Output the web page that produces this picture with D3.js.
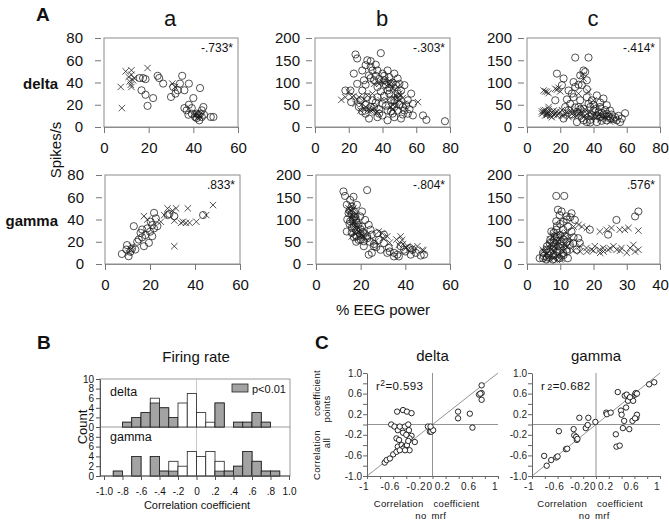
<!DOCTYPE html>
<html><head><meta charset="utf-8">
<script src="https://cdn.jsdelivr.net/npm/d3@7"></script>
<style>
body{margin:0;background:#fff}
svg{display:block}
text{font-family:"Liberation Sans",Arial,Helvetica,sans-serif;fill:#111}
</style>
</head><body>
<svg id="c" width="669" height="523"></svg>
<script>
// ================= DATA =================
const colTitles = ['a','b','c'];
const rowLabels = ['delta','gamma'];
const rLabels = ['-.733*','-.303*','-.414*','.833*','-.804*','.576*'];
const yTicksA = [[0,20,40,60,80],[0,50,100,150,200],[0,50,100,150,200],
                 [0,20,40,60,80],[0,50,100,150,200],[0,50,100,150,200]];
const xTicksA = [[0,20,40,60],[0,20,40,60,80],[0,20,40,60,80],
                 [0,20,40,60],[0,20,40,60],[0,10,20,30,40]];

// A delta / a
const dA_circ = [[16,44],[17.5,44],[18.6,43],[16.8,33],[18.6,29],[19.5,19],[22,26],[24,46],[24.7,44],[26.5,39],
 [30,27],[31,36],[32,30],[33,33],[34,39],[35,46],[36,33],[38,39],[40,26],[43,35],[36,17],[37,15],[38,20],[39.3,12],
 [40.8,9],[41.5,8],[42.7,6],[43,12],[43.8,15],[44.5,18],[44.8,11],[47.8,9],[49,9],[42.3,11],[43.8,9],[41.5,12],[39.3,17],[37.8,11]];
const dA_cross = [[8,17],[7.5,36],[9.7,50],[12.3,51],[19.5,53],[11,45],[11.5,41],[12,38],[12.3,36],[13,42],[12.3,47],[13.5,44],
 [30.6,39],[31.8,36],[40.8,11],[42,9],[41,10],[42,12],[43,9]];
// A delta / b
const dB_circ = [[18,82],[21.4,56],[24,163],[25,154],[23,120],[25,97],[28,127],[29,105],[30,139],[31,150],[33,135],[32,116],
 [34,127],[35,105],[39,166],[37,127],[40,120],[41,105],[43,127],[44,112],[45,97],[47,120],[49,109],[50,97],[51,82],[53,94],
 [57,75],[58,26],[64,26],[66,16],[77,13],[28,82],[31,67],[33,45],[32,19],[37,22],[40,52],[43,15],[45,60],[47,45],[49,67],
 [51,19],[53,37],[55,60],[49,37],[43,37],[37,67],[37,90],[21,82],[26,45],[35,45],[40,26],[47,22],[43,82],[49,75],[54,49],
 [58,52],[27,60],[46,30],[52,28],[30,30],[38,40],
 [30,95],[33,110],[36,115],[38,108],[42,95],[44,88],[46,100],[48,95],[39,80],[41,70],[44,75],[47,60],[50,50],[52,45],
 [45,35],[42,48],[36,55],[34,60],[30,50],[28,35],[38,30],[55,30],[56,40],[41,115],[36,140],[33,148]];
const dB_cross = [[15.6,61],[18,67],[20,79],[22,67],[24,52],[26,67],[27,37],[29,41],[31,71],[33,37],[35,41],[37,34],[35,97],
 [38,97],[40,101],[42,105],[45,101],[47,82],[48,71],[49,67],[51,71],[53,52],[61,56],[45,45],[43,60],[49,90],[50,60],[28,52],
 [34,75],[39,60],[46,40],[48,55],[32,40],
 [30,45],[32,35],[34,38],[36,32],[46,50],[47,65],[48,48],[50,75],[52,65],[44,95],[46,88],[38,102],[41,98],[25,60],[23,70],[29,62]];
// A delta / c
const dC_circ = [[29,156],[37,156],[18,120],[22,109],[21,94],[28,101],[34,127],[35,124],[36,105],[32,116],[33,94],[29,90],
 [17,60],[25,82],[42,71],[46,64],[39,60],[48,30],[53,22],[59,31],[57,19],[54,15],[50,19],[44,22],[39,26],[34,41],[30,34],
 [26,52],[28,67],[22,19],[23,45],[32,60],[36,67],[30,11],[36,11],[42,11],[48,15],[40,37],[44,45],[48,49],[37,52],[50,37],
 [42,26],[56,11],[27,28],[33,20],[45,32],[38,16],[31,45],
 [32,40],[35,30],[38,45],[41,40],[43,33],[46,28],[49,24],[52,18],[55,25],[44,55],[40,50],[36,85],[31,95],[27,75],[24,62],
 [34,15],[38,10],[45,14],[51,28],[47,38],[29,44],[25,38]];
const dC_cross = [[10,82],[12,79],[17,86],[19,88],[10,37],[11,26],[13,34],[14,30],[16,37],[18,26],[20,34],[23,30],[26,37],
 [28,26],[31,30],[34,22],[36,30],[39,19],[42,22],[45,26],[48,19],[52,15],[33,116],[34,109],[31,75],[37,79],[40,60],[43,45],
 [13,45],[15,22],[9,30],[12,32],[17,30],[21,26],[25,22],[29,34],[33,28],[38,24],[41,30],[44,17],[47,24],[50,12],[35,40],
 [10,33],[11,38],[12,27],[13,40],[14,25],[15,33],[16,28],[18,35],[19,29],[21,38],[22,25],[24,33],[27,30],[30,24],[32,35],
 [35,26],[38,33],[40,24],[43,28],[46,20],[49,25],[11,80],[13,76],[18,84],[20,80],[12,30],[9,35]];
// A gamma / a
const gA_circ = [[7.5,9],[9.8,17],[9.5,13],[10.5,7],[11.3,11],[12,14],[12.8,34],[13.5,13],[14.3,20],[15,22],[15.8,28],
 [16.5,24],[17.3,16],[16.5,31],[18,26],[18.8,32],[19.5,19],[20.3,38],[20,29],[21,35],[21,25],[21.8,46],[22.6,41],[21.8,32],
 [23.3,34],[27.8,44],[28.6,45],[30.8,43],[43.6,44]];
const gA_cross = [[10.5,10],[11.3,13],[12,16],[17.3,43],[18.8,40],[24.8,38],[26.3,44],[27.8,50],[30,48],[31.6,50],[30.8,39],
 [30.8,16],[33.8,37],[36,37],[36.8,50],[37.6,37],[40.6,38],[45,44],[48,53],[34.6,38]];
// A gamma / b
const gB_circ = [[12.3,163],[13,153],[22.9,166],[13.8,133],[15.3,144],[16,129],[17,118],[17.6,107],[14.6,114],[15.3,96],
 [16,81],[13.8,73],[18.3,92],[19.8,107],[20.6,84],[21.4,69],[22,99],[23.6,88],[24.4,77],[18.3,62],[19.1,54],[21.4,51],
 [22.9,62],[25,66],[27.4,69],[30.4,66],[25.9,40],[23.6,21],[25,25],[28.9,32],[30.4,47],[32.6,36],[34.9,17],[36.4,21],
 [37.9,40],[39.4,32],[42.4,21],[44.7,25],[46.9,19],[48.4,21],[20.6,118],[16.8,151],[18.3,133],[31.9,25],[37.1,17],
 [43.2,32],[28.1,54],[21.4,40],[19.8,66],[17,60],[18,75],[16.5,100],
 [15,120],[16,112],[17,105],[18,98],[19,88],[20,78],[21,72],[17,85],[16,70],[15,90],[14,100],[18,50],[20,55],[23,58],
 [24,50],[26,45],[27,38],[33,28],[35,25],[40,28],[42,36]];
const gB_cross = [[14.6,125],[15.3,122],[16.8,125],[16,110],[16.8,99],[16,62],[17.6,69],[18.3,77],[19.1,73],[19.8,62],
 [20.6,66],[28.1,73],[29.6,69],[31.9,62],[37.9,62],[38.6,54],[40.2,36],[45.4,40],[47.7,32],[26.6,51],[37.1,43],[43.2,36],
 [16,88],[17.6,88],
 [15,115],[16,105],[17,95],[18,85],[19,80],[20,70],[21,62],[22,58],[17,70],[18,112],[16,130],[30,58],[33,48],[36,55],
 [41,40],[44,30],[48,30],[39,45]];
// A gamma / c
const gC_circ = [[8.8,153],[11.2,153],[9.3,122],[10.4,118],[9.8,110],[8.8,96],[11.9,107],[13.4,114],[14.4,99],[12.3,84],
 [13.4,73],[15.4,58],[14.9,32],[12.3,13],[15.9,47],[18.9,77],[26.9,99],[24.4,66],[32.5,107],[33.5,118],[3.8,13],[4.8,25],
 [5.8,32],[6.8,47],[7.8,32],[8.3,62],[9.3,40],[10.4,51],[10.9,25],[9.8,13],[7.8,10],[5.8,10],[11.9,32],[12.9,43],[11.4,62],
 [8.8,77],[7.3,73],[13.9,47],[10.9,77],[4.8,13],[6.5,20],[8,20],[9,28],
 [6,40],[7,55],[8,48],[9,60],[10,65],[7,28],[8,38],[9,52],[10,45],[11,55],[12,50],[11,20],[12,28],[6,15],[5,18],[8,70],
 [9,85],[10,90],[11,95],[12,100],[13,105],[14,60]];
const gC_cross = [[4.8,32],[5.8,21],[6.8,17],[7.3,32],[8.3,25],[9.3,17],[10.4,32],[8.8,54],[7.8,62],[9.8,69],[11.4,43],
 [12.9,58],[14,84],[15.5,88],[16.5,84],[18,81],[15.9,40],[17.9,36],[19.4,32],[20.4,40],[21.9,32],[22.9,36],[24.4,32],
 [26,40],[27,32],[28.4,36],[32,43],[33.5,32],[32.5,28],[23.9,77],[25.4,81],[27.9,77],[29.4,77],[30.5,81],[33.5,75],
 [21.9,73],[6.8,43],[9.3,43],[8.3,40],[10.9,40],[6,25],[8,15],[9.5,22],[10.5,12],
 [5,28],[6,35],[7,45],[8,30],[9,48],[10,58],[11,65],[12,70],[7,55],[8,65],[9,35],[10,20],[11,28],[12,38],[13,48],[14,30],
 [6,12],[7,10],[8,12],[9,9],[10,10],[16,28],[18,28],[20,30],[23,28],[25,35],[28,30],[30,25],[31,36],[22,25]];

// Panel B histogram (bin starts, width 0.1)
const binStarts = [-0.9,-0.8,-0.7,-0.6,-0.5,-0.4,-0.3,-0.2,-0.1,0,0.1,0.2,0.3,0.4,0.5,0.6,0.7,0.8];
const deltaTotal = [0,1,2,3,6,4,2,5,7,3,1,5,0,1,1,3,1,0];
const deltaSig   = [0,1,2,3,5,4,2,0,0,0,0,5,0,1,1,3,1,0];
const gammaTotal = [1,0,4,0,4,1,3,2,5,4,5,3,1,2,5,3,1,1];
const gammaSig   = [1,0,4,0,4,1,1,0,0,0,0,1,1,2,5,3,1,1];
const bXTicks = [-1,-0.8,-0.6,-0.4,-0.2,0,0.2,0.4,0.6,0.8,1];
const bXLabels = ['-1.0','-.8','-.6','-.4','-.2','0','.2','.4','.6','.8','1.0'];
const bDeltaTicks = [0,2,4,6,8,10];
const bGammaTicks = [0,2,4,6,8];

// Panel C (x = no mrf, y = all points)
const cDelta = [[-0.73,-0.74],[-0.70,-0.69],[-0.65,-0.66],[-0.63,0.0],[-0.58,-0.04],[-0.53,-0.43],[-0.60,-0.58],[-0.55,-0.53],
 [-0.54,0.25],[-0.45,0.28],[-0.39,0.25],[-0.32,0.22],[-0.53,-0.11],[-0.50,-0.04],[-0.42,-0.04],[-0.37,0.0],[-0.36,-0.11],
 [-0.45,-0.16],[-0.55,-0.27],[-0.51,-0.30],[-0.47,-0.40],[-0.42,-0.43],[-0.45,-0.47],[-0.39,-0.40],[-0.35,-0.50],[-0.42,-0.50],
 [-0.50,-0.50],[-0.27,-0.34],[-0.32,-0.22],[-0.35,-0.27],[-0.07,-0.04],[-0.04,-0.14],[-0.02,-0.14],[0.01,-0.11],[-0.03,-0.04],
 [0.39,0.25],[0.39,0.12],[0.57,0.21],[0.61,-0.06],[0.71,0.58],[0.75,0.61],[0.73,0.60],[0.75,0.76],[0.75,0.48],[-0.40,-0.20],[-0.37,-0.32]];
const cGamma = [[-0.81,-0.61],[-0.77,-0.80],[-0.70,-0.69],[-0.62,-0.64],[-0.60,-0.62],[-0.58,-0.13],[-0.47,-0.48],[-0.45,-0.47],
 [-0.35,-0.09],[-0.34,-0.21],[-0.31,-0.24],[-0.30,-0.30],[-0.29,-0.28],[-0.26,0.13],[-0.16,-0.07],[-0.13,-0.01],[-0.12,0.13],
 [-0.01,0.05],[0.16,0.23],[0.17,0.20],[0.23,0.23],[0.31,-0.19],[0.32,-0.43],[0.37,-0.41],[0.34,0.63],[0.39,0.27],[0.40,0.19],
 [0.42,-0.07],[0.44,0.07],[0.45,0.56],[0.47,0.33],[0.50,0.46],[0.52,-0.09],[0.56,0.51],[0.58,0.46],[0.57,0.07],[0.61,0.58],
 [0.62,0.61],[0.63,0.13],[0.64,0.19],[0.61,0.12],[0.64,0.60],[0.48,0.58],[0.83,0.78],[0.91,0.82],[0.53,0.53]];
const cYTicks = [1,0.6,0.2,-0.2,-0.6,-1];
const cYLabels = ['1.0','0.6','0.2','-0.2','-0.6','-1.0'];
const cYMinor = [0.8,0.4,0,-0.4,-0.8];
const cXTicks = [-1,-0.6,-0.2,0,0.2,0.6,1];
const cXLabels = ['-1','-0.6','-0.2','0','0.2','0.6','1'];
const cXMinor = [-0.8,-0.4,0.4,0.8];

// ================= DRAW =================
const svg = d3.select('#c');
const SERIF = '"Liberation Serif","Times New Roman",serif';

function txt(x,y,s,opt={}){
  const t = svg.append('text').attr('x',x).attr('y',y).text(s)
    .attr('font-size',opt.size||12).attr('text-anchor',opt.anchor||'start');
  if(opt.weight) t.attr('font-weight',opt.weight);
  if(opt.family) t.attr('font-family',opt.family);
  if(opt.rotate) t.attr('transform',`rotate(-90,${x},${y})`);
  if(opt.ls) t.attr('letter-spacing',opt.ls);
  if(opt.fill) t.style('fill',opt.fill);
  return t;
}

// ---------- Panel A ----------
txt(36,21,'A',{size:19,weight:'bold'});
const colCenters=[170,382,593];
colTitles.forEach((t,i)=>txt(colCenters[i],26,t,{size:22,anchor:'middle',family:SERIF}));
txt(58,89,rowLabels[0],{size:15,weight:'bold',anchor:'end'});
txt(58,226,rowLabels[1],{size:15,weight:'bold',anchor:'end'});
txt(61,150,'Spikes/s',{size:15,anchor:'middle',rotate:true});
txt(383,315,'% EEG power',{size:15,anchor:'middle'});

const layoutA = [
 {x0:104,x1:238,y0:38,y1:127,pad:12},{x0:315,x1:450,y0:38,y1:127,pad:6},{x0:527,x1:660,y0:38,y1:127,pad:6},
 {x0:105,x1:240,y0:175,y1:264,pad:12},{x0:316,x1:450,y0:175,y1:264,pad:6},{x0:527,x1:660,y0:175,y1:264,pad:6}];
const circSets=[dA_circ,dB_circ,dC_circ,gA_circ,gB_circ,gC_circ];
const crossSets=[dA_cross,dB_cross,dC_cross,gA_cross,gB_cross,gC_cross];

layoutA.forEach((L,i)=>{
  const xt=xTicksA[i], yt=yTicksA[i];
  const xs=d3.scaleLinear().domain([xt[0],xt[xt.length-1]]).range([L.x0,L.x1]);
  const ys=d3.scaleLinear().domain([yt[0],yt[yt.length-1]]).range([L.y1,L.y0]);
  const g=svg.append('g');
  g.append('rect').attr('x',L.x0).attr('y',L.y0).attr('width',L.x1-L.x0).attr('height',L.y1-L.y0)
    .attr('fill','none').attr('stroke','#8c8c8c').attr('stroke-width',1);
  const ya=g.append('g').attr('transform',`translate(${L.x0-3},0)`)
    .call(d3.axisLeft(ys).tickValues(yt).tickSize(6).tickPadding(L.pad).tickSizeOuter(0));
  ya.select('.domain').remove();
  const xa=g.append('g').attr('transform',`translate(0,${L.y1})`)
    .call(d3.axisBottom(xs).tickValues(xt).tickSize(6).tickPadding(9).tickSizeOuter(0));
  xa.select('.domain').attr('stroke','#8c8c8c');
  [ya,xa].forEach(a=>{
    a.selectAll('line').attr('stroke','#777');
    a.selectAll('text').attr('font-size',15).attr('font-family','"Liberation Sans",Arial,sans-serif').style('fill','#111');
  });
  g.selectAll('circle.pt').data(circSets[i]).enter().append('circle')
    .attr('cx',d=>xs(d[0])).attr('cy',d=>ys(d[1])).attr('r',3.6)
    .attr('fill','none').attr('stroke','#1a1a1a').attr('stroke-width',0.75);
  const h=3.2;
  g.selectAll('path.x').data(crossSets[i]).enter().append('path')
    .attr('d',d=>{const x=xs(d[0]),y=ys(d[1]);return `M${x-h},${y-h}L${x+h},${y+h}M${x-h},${y+h}L${x+h},${y-h}`;})
    .attr('stroke','#1a1a1a').attr('stroke-width',0.75).attr('fill','none');
  txt(L.x1-5,L.y0+14,rLabels[i],{size:12,anchor:'end'});
});

// ---------- Panel B ----------
txt(37,349,'B',{size:19,weight:'bold'});
txt(196,362,'Firing rate',{size:15,anchor:'middle'});
const xB=d3.scaleLinear().domain([-1,1]).range([104,289]);
const yBd=d3.scaleLinear().domain([0,10]).range([427,379]);
const yBg=d3.scaleLinear().domain([0,10]).range([476,427]);
const gB=svg.append('g');
gB.append('rect').attr('x',100).attr('y',379).attr('width',190).attr('height',97)
  .attr('fill','none').attr('stroke','#999');
gB.append('line').attr('x1',100).attr('x2',290).attr('y1',yBd(0)).attr('y2',yBd(0)).attr('stroke','#999');
gB.append('line').attr('x1',xB(0)).attr('x2',xB(0)).attr('y1',379).attr('y2',476).attr('stroke','#bbb').attr('stroke-width',0.8);
function bars(tot,sig,ys){
  binStarts.forEach((b,i)=>{
    if(tot[i]>0) gB.append('rect').attr('x',xB(b)).attr('width',xB(b+0.1)-xB(b))
      .attr('y',ys(tot[i])).attr('height',ys(0)-ys(tot[i])).attr('fill','#fff').attr('stroke','#222').attr('stroke-width',0.8);
    if(sig[i]>0) gB.append('rect').attr('x',xB(b)).attr('width',xB(b+0.1)-xB(b))
      .attr('y',ys(sig[i])).attr('height',ys(0)-ys(sig[i])).attr('fill','#a3a3a3').attr('stroke','#222').attr('stroke-width',0.8);
  });
}
bars(deltaTotal,deltaSig,yBd);
bars(gammaTotal,gammaSig,yBg);
const styleAx=(a,size)=>{a.selectAll('line').attr('stroke','#555');a.select('.domain').attr('stroke','#555');
  a.selectAll('text').attr('font-size',size).attr('font-family','"Liberation Sans",Arial,sans-serif').style('fill','#111');};
let a1=gB.append('g').attr('transform','translate(100,0)').call(d3.axisLeft(yBd).tickValues(bDeltaTicks).tickSize(4).tickPadding(2).tickSizeOuter(0));
styleAx(a1,10);
let a2=gB.append('g').attr('transform','translate(100,0)').call(d3.axisLeft(yBg).tickValues(bGammaTicks).tickSize(4).tickPadding(2).tickSizeOuter(0));
styleAx(a2,10);
let a3=gB.append('g').attr('transform','translate(0,476)').call(d3.axisBottom(xB).tickValues(bXTicks)
  .tickFormat((d,i)=>bXLabels[i]).tickSize(4).tickPadding(8).tickSizeOuter(0));
a3.select('.domain').attr('d','M100,0H290');
styleAx(a3,10);
gB.append('rect').attr('x',232).attr('y',384).attr('width',16).attr('height',8).attr('fill','#a3a3a3').attr('stroke','#222').attr('stroke-width',0.8);
txt(252,393,'p<0.01',{size:11});
txt(110,396,'delta',{size:12.5});
txt(110,441,'gamma',{size:12.5});
txt(87,427,'Count',{size:13,anchor:'middle',rotate:true});
txt(197,509,'Correlation coefficient',{size:11,anchor:'middle'});

// ---------- Panel C ----------
txt(315,349,'C',{size:19,weight:'bold'});
function corrPanel(x0,x1,pts,title,rtext,sup){
  const y0=373,y1=476;
  const xs=d3.scaleLinear().domain([-1,1]).range([x0,x1]);
  const ys=d3.scaleLinear().domain([-1,1]).range([y1,y0]);
  const g=svg.append('g');
  txt((x0+x1)/2,361,title,{size:15,anchor:'middle'});
  g.append('line').attr('x1',xs(-1)).attr('x2',xs(1)).attr('y1',ys(0)).attr('y2',ys(0)).attr('stroke','#777').attr('stroke-width',0.8);
  g.append('line').attr('x1',xs(0)).attr('x2',xs(0)).attr('y1',ys(-1)).attr('y2',ys(1)).attr('stroke','#777').attr('stroke-width',0.8);
  g.append('line').attr('x1',xs(-1)).attr('x2',xs(1)).attr('y1',ys(-1)).attr('y2',ys(1)).attr('stroke','#777').attr('stroke-width',0.8);
  const ya=g.append('g').attr('transform',`translate(${x0},0)`)
    .call(d3.axisLeft(ys).tickValues(cYTicks.concat(cYMinor)).tickFormat(()=>'').tickSize(4).tickSizeOuter(0));
  ya.selectAll('line').attr('stroke','#666'); ya.select('.domain').attr('stroke','#666');
  const xa=g.append('g').attr('transform',`translate(0,${y1})`)
    .call(d3.axisBottom(xs).tickValues(cXTicks.concat(cXMinor)).tickFormat(()=>'').tickSize(3).tickSizeOuter(0));
  xa.selectAll('line').attr('stroke','#666'); xa.select('.domain').attr('stroke','#666');
  // tick labels
  const yl=svg.append('g');
  yl.selectAll('text').data(cYTicks).enter().append('text')
    .attr('x',x0-5).attr('y',d=>ys(d)+3.5).attr('text-anchor','end')
    .attr('font-size',10).style('fill','#222').text((d,i)=>cYLabels[i]);
  cXTicks.forEach((v,i)=>txt(xs(v)-3,y1+14,cXLabels[i],{size:10,anchor:'middle',ls:0.6,fill:'#222'}));
  g.selectAll('circle.p').data(pts).enter().append('circle')
    .attr('cx',d=>xs(d[0])).attr('cy',d=>ys(d[1])).attr('r',2.7)
    .attr('fill','#fff').attr('stroke','#111').attr('stroke-width',0.9);
  const t=svg.append('text').attr('x',x0+9).attr('y',390).attr('font-size',11.5).attr('letter-spacing',0.4);
  t.append('tspan').text('r');
  if(sup){ t.append('tspan').attr('dy',-4).attr('font-size',8.5).text('2'); t.append('tspan').attr('dy',4).text(rtext); }
  else { t.append('tspan').attr('dx',2).attr('font-size',9).text('2'); t.append('tspan').text(rtext); }
  const mid=xs(0)-5;
  txt(mid-4,507,'Correlation',{size:9.5,anchor:'end',ls:0.3});
  txt(mid+6,507,'coefficient',{size:9.5,anchor:'start',ls:0.3});
  txt(mid-1,519,'no',{size:9.5,anchor:'end',ls:0.3});
  txt(mid+4,519,'mrf',{size:9.5,anchor:'start',ls:0.3});
}
corrPanel(367,498,cDelta,'delta','=0.593',true);
corrPanel(532,660,cGamma,'gamma','=0.682',false);
txt(320,455,'Correlation',{size:9.5,anchor:'middle',rotate:true,ls:0.3});
txt(320,393,'coefficient',{size:9.5,anchor:'middle',rotate:true,ls:0.3});
txt(330,443,'all',{size:9.5,anchor:'middle',rotate:true,ls:0.3});
txt(330,409,'points',{size:9.5,anchor:'middle',rotate:true,ls:0.3});
</script>
</body></html>
